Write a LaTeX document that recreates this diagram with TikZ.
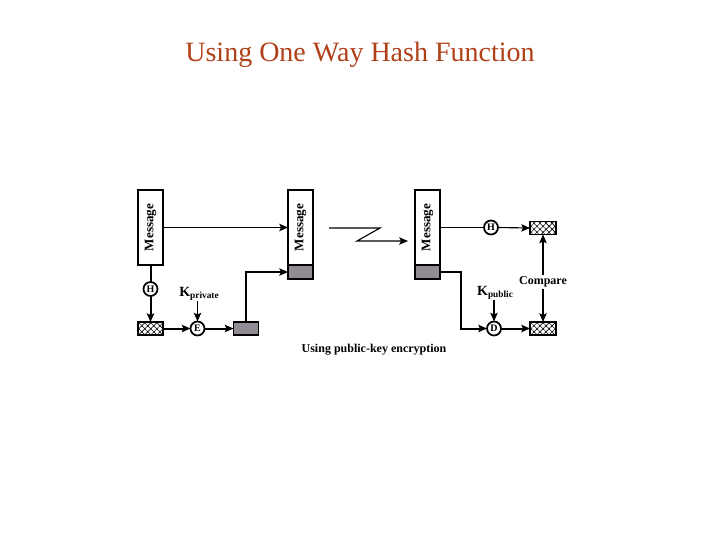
\documentclass[tikz,border=0pt]{standalone}
\usepackage{fontspec}
\setmainfont{Liberation Serif}
\usetikzlibrary{arrows.meta,patterns.meta}
\definecolor{titlecol}{RGB}{176,64,24}
\definecolor{sigcol}{RGB}{145,140,148}
\begin{document}
\begin{tikzpicture}[x=0.75pt,y=-0.75pt,
  every node/.style={inner sep=0pt, outer sep=0pt},
  msgbox/.style={draw, line width=1pt, minimum width=25*0.75pt, minimum height=75*0.75pt,
     font=\bfseries\fontsize{9.8}{10}\selectfont},
  sigbox/.style={draw, line width=1pt, fill=sigcol, minimum width=25*0.75pt, minimum height=14*0.75pt},
  hashbox/.style={draw, line width=1pt, minimum width=25*0.75pt, minimum height=13*0.75pt,
     pattern={Lines[angle=45,distance=3.2pt,line width=0.45pt]},
     postaction={pattern={Lines[angle=-45,distance=3.2pt,line width=0.45pt]}}},
  fn/.style={circle, draw, line width=1.3pt, fill=white, minimum size=14*0.75pt,
     font=\bfseries\fontsize{7.5}{8}\selectfont},
  lbl/.style={font=\bfseries\fontsize{9}{10}\selectfont},
  arr/.style={-{Stealth[length=6.5pt,width=5.5pt,inset=1.2pt]}},
  thin/.style={line width=0.85pt},
  thk/.style={line width=1.5pt}]
\useasboundingbox (0,0) rectangle (720,540);

% title
\node[text=titlecol, font=\fontsize{21}{24}\selectfont] (title) at (360,55) {Using One Way Hash Function};

% sender
\node[msgbox] (m1) at (150.5,227.5) {\rotatebox{90}{Message}};
\node[fn] (h1) at (150.5,289) {H};
\node[hashbox] (hb1) at (150.5,328.5) {};
\node[fn] (e1) at (197.5,328.5) {E};
\node[sigbox, minimum height=13*0.75pt] (g1) at (246,328.5) {};
\node[lbl] (kpriv) at (199,294) {\fontsize{10.5}{11}\selectfont K\raisebox{-2pt}{\fontsize{7}{8}\selectfont private}};

% transmitted
\node[msgbox] (m2) at (300.5,227.5) {\rotatebox{90}{Message}};
\node[sigbox] (g2) at (300.5,272) {};

% receiver
\node[msgbox] (m3) at (427.5,227.5) {\rotatebox{90}{Message}};
\node[sigbox] (g3) at (427.5,272) {};
\node[fn] (h2) at (491,227.5) {H};
\node[hashbox, minimum width=26*0.75pt] (hb2) at (543,228) {};
\node[fn] (d1) at (494,328.5) {D};
\node[hashbox, minimum width=26*0.75pt] (hb3) at (543,328.5) {};
\node[lbl] (kpub) at (495,293) {\fontsize{10.5}{11}\selectfont K\raisebox{-2pt}{\fontsize{7}{8}\selectfont public}};
\node[lbl, fill=white, inner sep=1pt] (cmp) at (543,282) {Compare};

\node[lbl] (cap) at (374,349.5) {Using public-key encryption};

% sender connectors
\draw[thin, arr] (m1.east) -- (m2.west);
\draw[thk] (m1.south) -- (h1.north);
\draw[thk, arr] (h1.south) -- (hb1.north);
\draw[thk, arr] (hb1.east) -- (e1.west);
\draw[thk, arr] (e1.east) -- (g1.west);
\draw[thin, arr] (kpriv.south -| e1.north) -- (e1.north);
\draw[thin, arr] (g1.north) |- (g2.west);

% zigzag transmission
\coordinate (z1) at (329,228);
\coordinate (z2) at (380,228);
\coordinate (z3) at (357,241);
\coordinate (z4) at (408,241);
\draw[thin, arr] (z1) -- (z2) -- (z3) -- (z4);

% receiver connectors
\draw[thin] (m3.east) -- (h2.west);
\draw[thin, arr] (h2.east) -- (hb2.west);
\coordinate (c1) at (461,272);
\draw[thk, arr] (g3.east) -- (c1) |- (d1.west);
\draw[thk, arr] (d1.east) -- (hb3.west);
\draw[thin, arr] (kpub.south -| d1.north) -- (d1.north);
\draw[thin, arr] (cmp.north) -- (hb2.south);
\draw[thin, arr] (cmp.south) -- (hb3.north);
\end{tikzpicture}
\end{document}
